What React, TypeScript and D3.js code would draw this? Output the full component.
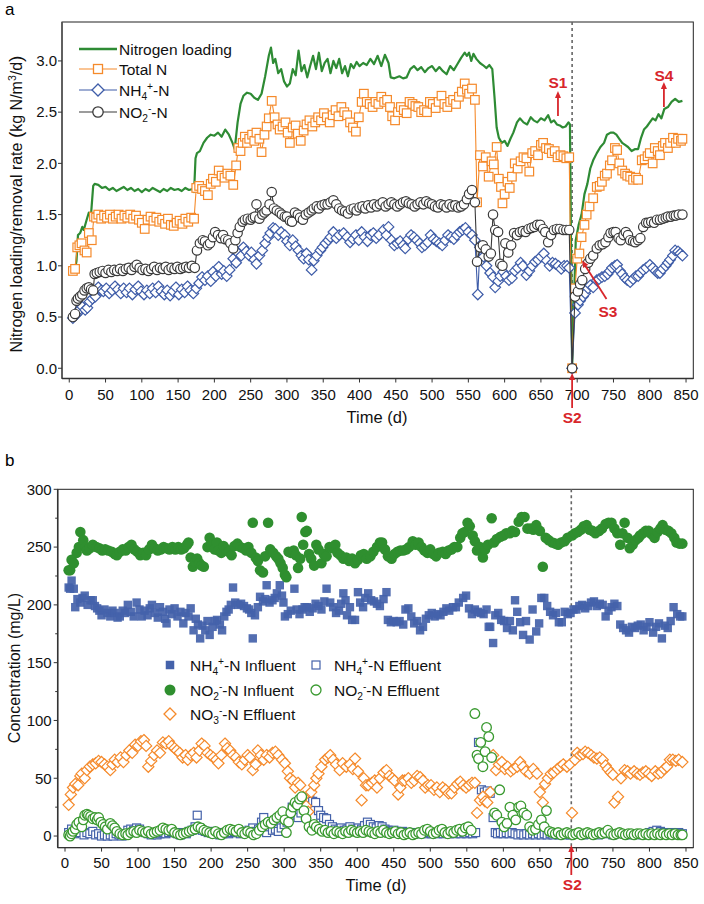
import React from 'react';
import * as d3 from 'd3';

type P = [number, number];

// ---------- axis ticks ----------
const xTicks = d3.range(0, 851, 50);
const topYTicks = [0, 0.5, 1, 1.5, 2, 2.5, 3];
const botYTicks = [0, 50, 100, 150, 200, 250, 300];
const botYMinor = [25, 75, 125, 175, 225, 275];
const switchDay = 693;

// ---------- panel a ----------
const loading: P[] = [[8,0.97],[10,1.05],[12,1.3],[15,1.32],[18,1.38],[20,1.35],[24,1.45],[27,1.52],[30,1.5],[33,1.78],[35,1.8],[40,1.79],[45,1.76],[50,1.77],[55,1.74],[60,1.76],[65,1.73],[70,1.75],[75,1.77],[80,1.74],[85,1.76],[90,1.73],[95,1.75],[100,1.72],[105,1.75],[110,1.73],[115,1.76],[120,1.74],[125,1.72],[130,1.75],[135,1.73],[140,1.76],[145,1.74],[150,1.75],[155,1.73],[160,1.76],[165,1.74],[170,1.75],[172,1.72],[174,2.05],[176,2.1],[180,2.12],[185,2.2],[190,2.25],[195,2.28],[200,2.27],[205,2.3],[210,2.26],[215,2.33],[220,2.28],[225,2.2],[228,2.14],[232,2.4],[236,2.58],[240,2.66],[245,2.69],[250,2.68],[255,2.64],[260,2.62],[265,2.68],[270,2.85],[275,3.05],[278,3.13],[281,2.98],[284,3.02],[288,2.88],[292,2.92],[296,2.8],[300,2.75],[304,2.78],[308,2.92],[312,2.86],[316,3.1],[320,2.9],[324,2.96],[328,2.84],[332,2.95],[336,3.05],[340,2.92],[344,3.08],[348,2.9],[352,2.98],[356,3.02],[360,2.88],[364,3.0],[368,2.93],[372,3.02],[376,2.88],[380,2.95],[384,2.85],[388,2.97],[392,2.93],[396,2.99],[400,2.95],[405,2.98],[410,2.96],[415,3.02],[420,2.97],[425,3.05],[430,2.95],[435,3.06],[440,2.98],[443,2.84],[448,2.83],[455,2.85],[460,2.83],[465,2.84],[470,2.92],[475,2.95],[480,2.91],[485,2.94],[490,2.89],[495,2.93],[500,2.95],[505,2.9],[510,2.94],[515,2.9],[520,2.87],[525,2.95],[530,2.91],[535,2.97],[540,3.03],[545,3.08],[548,3.05],[551,3.08],[554,3.0],[557,3.07],[561,3.02],[566,2.98],[570,2.96],[575,2.93],[579,2.96],[583,2.92],[586,2.65],[589,2.35],[592,2.25],[596,2.2],[600,2.22],[604,2.17],[608,2.24],[612,2.3],[617,2.4],[621,2.44],[626,2.4],[631,2.38],[636,2.45],[640,2.42],[645,2.4],[650,2.44],[655,2.42],[660,2.47],[664,2.4],[668,2.42],[672,2.38],[676,2.37],[680,2.35],[684,2.36],[688,2.4],[690,2.38],[693,0],[698,1.25],[702,1.4],[706,1.5],[710,1.7],[714,1.8],[718,1.95],[722,2.03],[727,2.1],[732,2.16],[737,2.2],[741,2.28],[746,2.3],[750,2.3],[754,2.28],[758,2.24],[762,2.2],[766,2.18],[770,2.16],[775,2.12],[780,2.14],[784,2.14],[788,2.25],[792,2.33],[796,2.36],[800,2.4],[804,2.44],[808,2.42],[812,2.48],[816,2.44],[820,2.53],[825,2.55],[830,2.6],[835,2.63],[840,2.6],[845,2.61]];

const totalN: P[] = [[5,0.95],[8,0.97],[11,1.18],[14,1.2],[17,1.22],[21,1.15],[24,1.13],[27,1.32],[31,1.25],[34,1.48],[37,1.47],[40,1.5],[44,1.46],[48,1.49],[52,1.47],[56,1.5],[60,1.46],[64,1.48],[68,1.5],[72,1.46],[76,1.49],[80,1.47],[84,1.5],[88,1.46],[92,1.49],[96,1.45],[100,1.42],[104,1.36],[108,1.45],[112,1.48],[116,1.44],[120,1.47],[124,1.43],[128,1.45],[132,1.41],[136,1.46],[140,1.4],[144,1.39],[148,1.42],[152,1.44],[156,1.41],[160,1.46],[164,1.43],[168,1.47],[172,1.46],[175,1.76],[179,1.78],[183,1.75],[187,1.73],[191,1.69],[195,1.8],[198,1.85],[202,1.82],[206,1.93],[210,1.88],[214,1.86],[218,1.9],[222,1.88],[226,1.79],[230,1.98],[233,2.15],[236,2.12],[239,2.2],[242,2.26],[245,2.2],[248,2.24],[252,2.28],[255,2.22],[258,2.3],[262,2.24],[265,2.11],[269,2.28],[272,2.36],[275,2.44],[279,2.61],[283,2.45],[287,2.38],[290,2.33],[294,2.36],[298,2.4],[301,2.3],[304,2.2],[308,2.35],[312,2.37],[315,2.29],[319,2.22],[323,2.32],[327,2.38],[331,2.42],[335,2.36],[339,2.4],[343,2.45],[347,2.42],[351,2.49],[355,2.45],[359,2.4],[363,2.47],[367,2.52],[371,2.46],[375,2.55],[379,2.5],[383,2.47],[387,2.4],[391,2.35],[395,2.31],[399,2.45],[403,2.6],[406,2.68],[410,2.6],[414,2.58],[418,2.55],[422,2.6],[426,2.58],[430,2.65],[434,2.6],[438,2.62],[442,2.55],[445,2.46],[449,2.42],[453,2.5],[457,2.55],[461,2.52],[465,2.49],[469,2.6],[473,2.58],[477,2.56],[481,2.55],[485,2.5],[489,2.52],[493,2.5],[497,2.6],[501,2.58],[505,2.54],[509,2.6],[513,2.66],[517,2.58],[521,2.55],[525,2.6],[529,2.62],[533,2.58],[537,2.65],[541,2.7],[545,2.78],[548,2.72],[551,2.68],[555,2.73],[559,2.62],[562,1.62],[566,2.08],[570,1.97],[574,2.06],[578,1.87],[582,2.02],[585,1.99],[589,2.16],[592,1.85],[595,1.77],[597,1.61],[600,1.7],[604,1.82],[607,1.76],[610,1.87],[614,2.0],[618,1.95],[622,2.02],[626,2.06],[630,2.05],[634,1.92],[638,2.1],[642,2.12],[646,2.08],[650,2.18],[653,2.2],[657,2.15],[661,2.14],[665,2.1],[669,2.12],[673,2.06],[677,2.08],[681,2.07],[685,2.05],[689,2.06],[693,0],[697,0.78],[700,1.07],[703,1.12],[706,1.28],[710,1.4],[713,1.5],[717,1.58],[722,1.66],[727,1.77],[731,1.78],[734,1.82],[738,1.88],[741,1.9],[745,1.98],[748,2.03],[752,2.15],[755,2.13],[758,2.0],[762,1.93],[766,1.9],[769,1.88],[773,1.87],[777,1.84],[781,1.86],[784,1.84],[789,2.03],[793,2.04],[797,2.07],[800,2.1],[804,2.0],[807,2.15],[811,2.12],[814,2.08],[818,2.17],[821,2.2],[825,2.15],[828,2.2],[832,2.25],[836,2.2],[839,2.24],[843,2.22],[845,2.24]];

const nh4Rate: P[] = [[5,0.49],[9,0.52],[12,0.54],[15,0.58],[18,0.6],[22,0.57],[25,0.59],[28,0.65],[32,0.68],[36,0.7],[40,0.79],[44,0.76],[47,0.75],[51,0.78],[55,0.73],[59,0.76],[63,0.8],[67,0.77],[71,0.73],[75,0.78],[79,0.74],[83,0.78],[87,0.72],[91,0.77],[95,0.8],[99,0.75],[103,0.72],[107,0.76],[111,0.73],[115,0.78],[119,0.74],[123,0.8],[127,0.75],[131,0.72],[135,0.76],[139,0.71],[143,0.75],[147,0.79],[151,0.72],[155,0.77],[159,0.74],[163,0.8],[167,0.76],[171,0.73],[175,0.78],[179,0.83],[183,0.89],[187,0.86],[191,0.9],[195,0.85],[198,0.94],[202,0.9],[206,0.99],[210,0.92],[213,0.95],[217,0.9],[221,0.96],[226,1.07],[230,1.03],[233,1.12],[237,1.1],[240,1.18],[244,1.14],[248,1.1],[251,1.13],[255,1.06],[258,1.02],[262,1.1],[266,1.15],[270,1.22],[274,1.28],[277,1.32],[281,1.37],[284,1.36],[288,1.3],[292,1.33],[297,1.3],[300,1.24],[304,1.2],[308,1.25],[312,1.19],[316,1.15],[320,1.1],[323,1.07],[327,1.12],[330,1.06],[334,0.96],[337,1.05],[341,1.1],[346,1.15],[349,1.18],[353,1.22],[357,1.25],[360,1.28],[364,1.33],[368,1.27],[372,1.3],[378,1.32],[383,1.28],[387,1.23],[391,1.26],[395,1.3],[399,1.25],[403,1.33],[407,1.28],[411,1.24],[415,1.3],[419,1.32],[423,1.27],[427,1.3],[433,1.35],[437,1.3],[440,1.38],[444,1.25],[448,1.2],[452,1.22],[456,1.24],[460,1.2],[463,1.17],[467,1.26],[471,1.3],[475,1.28],[479,1.25],[483,1.22],[486,1.18],[490,1.2],[494,1.23],[498,1.3],[502,1.26],[506,1.24],[510,1.22],[514,1.2],[518,1.25],[522,1.3],[526,1.28],[530,1.26],[534,1.3],[538,1.33],[542,1.35],[546,1.37],[550,1.33],[555,1.3],[559,1.25],[563,0.72],[566,1.18],[571,1.09],[575,1.0],[580,0.93],[584,0.89],[587,0.79],[591,0.85],[594,0.9],[598,0.94],[602,0.9],[606,0.86],[610,0.88],[614,0.95],[618,0.98],[622,1.03],[625,1.0],[630,0.91],[634,0.95],[638,1.0],[642,1.04],[646,1.06],[650,1.09],[654,1.12],[658,1.05],[662,1.0],[666,1.03],[670,1.02],[674,1.0],[678,0.97],[682,1.0],[686,1.0],[689,0.98],[693,0],[697,0.54],[701,0.62],[704,0.66],[708,0.7],[711,0.73],[715,0.78],[718,0.81],[722,0.79],[727,0.86],[730,0.87],[734,0.89],[738,0.9],[742,0.92],[745,0.95],[748,0.98],[752,1.0],[755,1.01],[759,0.95],[762,0.92],[766,0.88],[769,0.86],[773,0.84],[777,0.87],[781,0.9],[784,0.9],[787,0.93],[791,0.96],[795,0.98],[800,1.01],[804,0.98],[808,0.95],[811,0.93],[814,0.93],[818,0.97],[822,1.0],[825,1.03],[828,1.06],[832,1.1],[835,1.15],[839,1.14],[842,1.12],[845,1.1]];

const no2Rate: P[] = [[5,0.5],[8,0.53],[10,0.66],[12,0.68],[15,0.7],[18,0.72],[21,0.76],[24,0.78],[27,0.79],[30,0.77],[33,0.76],[35,0.92],[38,0.93],[42,0.94],[46,0.95],[50,0.93],[54,0.96],[58,0.94],[62,0.96],[66,0.95],[70,0.97],[74,0.95],[78,0.97],[82,0.98],[86,0.96],[90,0.99],[93,1.01],[97,0.98],[101,0.96],[105,0.97],[109,0.95],[113,0.97],[117,0.99],[121,0.96],[125,0.98],[129,0.97],[133,0.99],[137,0.96],[141,0.98],[145,0.97],[149,0.99],[153,0.97],[157,0.98],[161,0.99],[165,0.98],[169,1.0],[173,0.98],[176,1.15],[180,1.22],[184,1.25],[187,1.24],[191,1.2],[194,1.22],[198,1.28],[201,1.33],[205,1.3],[209,1.27],[212,1.3],[215,1.26],[219,1.25],[222,1.22],[226,1.17],[229,1.25],[232,1.32],[235,1.38],[239,1.43],[242,1.45],[246,1.46],[250,1.45],[253,1.47],[256,1.48],[258,1.6],[262,1.46],[266,1.5],[269,1.52],[272,1.54],[276,1.6],[279,1.72],[282,1.56],[286,1.54],[290,1.52],[293,1.5],[297,1.48],[300,1.48],[304,1.44],[307,1.43],[311,1.52],[315,1.5],[318,1.47],[322,1.45],[326,1.5],[330,1.52],[334,1.54],[337,1.56],[341,1.58],[344,1.56],[348,1.59],[352,1.6],[356,1.6],[360,1.62],[364,1.64],[368,1.6],[372,1.56],[376,1.54],[380,1.53],[384,1.51],[388,1.55],[392,1.56],[396,1.54],[400,1.57],[404,1.58],[408,1.56],[412,1.59],[416,1.57],[420,1.6],[424,1.58],[428,1.6],[432,1.62],[436,1.58],[440,1.6],[444,1.62],[448,1.6],[452,1.58],[456,1.6],[460,1.62],[464,1.63],[468,1.61],[472,1.6],[476,1.58],[480,1.6],[484,1.62],[488,1.6],[492,1.63],[496,1.61],[500,1.6],[504,1.58],[508,1.57],[512,1.6],[516,1.59],[520,1.57],[524,1.6],[528,1.58],[532,1.59],[536,1.57],[540,1.58],[544,1.6],[548,1.65],[551,1.7],[555,1.74],[559,1.62],[562,1.04],[566,1.18],[570,1.2],[574,1.16],[578,1.09],[581,1.12],[584,1.5],[587,1.35],[591,1.33],[594,1.02],[597,1.0],[601,1.22],[605,1.13],[609,1.2],[613,1.32],[617,1.3],[621,1.33],[625,1.34],[629,1.33],[633,1.36],[637,1.37],[641,1.38],[645,1.4],[649,1.4],[653,1.36],[656,1.33],[660,1.23],[664,1.3],[668,1.35],[672,1.36],[676,1.36],[681,1.35],[685,1.35],[689,1.35],[693,0],[697,0.7],[701,0.75],[704,0.82],[707,0.86],[711,0.97],[715,1.03],[718,1.07],[722,1.1],[727,1.17],[731,1.2],[735,1.21],[739,1.23],[743,1.28],[746,1.32],[750,1.33],[753,1.33],[757,1.27],[760,1.25],[764,1.3],[767,1.33],[770,1.3],[773,1.25],[777,1.24],[780,1.23],[784,1.25],[787,1.27],[791,1.38],[795,1.42],[798,1.42],[802,1.43],[806,1.42],[810,1.45],[814,1.45],[818,1.46],[822,1.47],[825,1.48],[829,1.48],[833,1.49],[836,1.49],[840,1.5],[845,1.5]];

// ---------- panel b ----------
const nh4Inf: P[] = [[5,215],[7,214],[9,221],[12,214],[14,198],[17,205],[21,202],[24,206],[27,208],[31,200],[35,204],[38,204],[41,199],[44,197],[47,195],[50,191],[54,196],[58,193],[62,190],[65,195],[68,193],[72,189],[75,190],[79,195],[82,193],[86,200],[90,194],[94,190],[98,202],[102,196],[105,190],[109,195],[113,191],[116,197],[119,200],[123,193],[127,189],[130,198],[134,194],[137,188],[139,184],[143,196],[146,192],[150,197],[154,190],[158,194],[162,184],[165,193],[169,190],[172,197],[176,178],[179,188],[182,183],[185,171],[188,182],[192,178],[195,186],[198,174],[202,181],[205,186],[208,187],[212,183],[215,178],[218,190],[221,194],[224,196],[227,200],[230,215],[233,202],[237,200],[241,201],[245,199],[249,197],[252,196],[255,193],[257,171],[260,191],[264,198],[267,207],[271,203],[274,205],[276,217],[280,202],[284,204],[287,206],[290,210],[294,217],[297,208],[299,202],[301,190],[305,192],[309,195],[314,214],[317,196],[321,192],[325,196],[328,198],[331,198],[335,194],[339,197],[343,201],[347,199],[351,196],[355,203],[358,214],[363,202],[367,198],[371,193],[375,195],[378,201],[381,210],[384,204],[386,191],[390,198],[393,187],[397,187],[401,211],[404,202],[408,198],[411,206],[415,210],[419,204],[423,203],[427,201],[431,199],[436,205],[440,211],[442,187],[446,185],[450,186],[454,185],[458,186],[463,183],[466,196],[470,197],[474,190],[478,184],[482,186],[486,178],[490,181],[494,188],[498,191],[502,193],[506,190],[510,192],[514,191],[518,194],[522,197],[526,195],[531,198],[535,198],[539,202],[545,206],[549,208],[553,197],[557,192],[561,196],[565,194],[569,193],[573,192],[577,196],[580,181],[582,181],[586,167],[589,191],[593,193],[597,187],[601,186],[605,180],[609,186],[613,178],[616,204],[619,194],[623,185],[627,174],[631,186],[636,170],[640,196],[645,177],[649,184],[652,206],[656,206],[660,199],[664,194],[668,191],[672,193],[676,185],[680,185],[684,194],[688,192],[692,193],[696,196],[700,196],[704,199],[708,200],[712,197],[716,199],[720,202],[724,203],[728,199],[732,201],[736,200],[740,190],[744,195],[748,198],[752,201],[756,199],[760,183],[764,180],[768,178],[772,176],[776,181],[780,180],[784,182],[788,183],[792,178],[796,181],[800,185],[805,176],[809,181],[813,184],[817,171],[821,182],[825,180],[829,186],[833,198],[838,192],[842,190],[845,190]];

const nh4Eff: P[] = [[5,3],[9,6],[13,2],[17,4],[21,3],[26,1],[30,3],[34,2],[38,4],[42,1],[46,2],[50,0],[54,1],[58,0],[62,1],[66,0],[70,2],[74,1],[78,0],[82,2],[86,5],[90,6],[94,5],[98,7],[102,6],[106,4],[110,3],[114,2],[118,1],[122,2],[126,1],[130,2],[134,3],[138,2],[142,3],[146,4],[150,3],[154,2],[158,1],[162,3],[166,2],[170,4],[174,5],[178,8],[181,18],[184,7],[188,5],[192,4],[196,3],[200,4],[204,2],[208,3],[212,1],[216,2],[220,3],[224,2],[228,3],[232,4],[236,3],[240,2],[244,3],[248,4],[252,5],[257,7],[261,4],[265,6],[269,12],[272,16],[276,3],[280,8],[284,5],[288,6],[292,4],[296,7],[300,10],[304,12],[308,18],[311,25],[315,22],[319,16],[323,20],[327,24],[331,28],[335,33],[339,30],[343,29],[347,22],[350,18],[354,16],[358,15],[362,10],[366,8],[370,6],[374,5],[378,7],[382,5],[386,6],[390,8],[394,6],[398,5],[402,7],[406,6],[410,9],[414,12],[418,10],[422,8],[426,7],[430,9],[434,8],[438,6],[442,5],[446,4],[450,5],[454,4],[458,3],[462,4],[466,3],[470,2],[474,3],[478,2],[482,3],[486,2],[490,3],[494,2],[498,3],[502,2],[506,3],[510,2],[514,3],[518,2],[522,3],[526,2],[530,3],[534,2],[538,3],[542,2],[546,3],[550,2],[554,3],[558,2],[562,3],[566,81],[570,40],[574,38],[578,39],[582,37],[586,16],[589,3],[592,2],[596,3],[600,2],[604,3],[608,2],[612,3],[616,2],[620,1],[624,2],[628,1],[632,2],[636,1],[640,2],[644,1],[648,2],[652,1],[656,2],[660,1],[664,2],[668,1],[672,2],[676,1],[680,2],[684,1],[688,2],[692,1],[700,2],[710,1],[720,2],[730,1],[740,2],[750,1],[760,2],[770,1],[780,2],[790,1],[800,3],[805,4],[810,5],[815,4],[820,3],[825,2],[830,3],[835,2],[840,3],[845,2]];

const no2Inf: P[] = [[5,230],[7,230],[9,239],[12,236],[16,245],[19,250],[21,263],[25,256],[28,250],[30,247],[34,249],[38,252],[43,250],[47,249],[51,247],[55,248],[59,247],[64,246],[68,244],[71,243],[75,246],[79,248],[83,247],[87,250],[91,252],[95,248],[99,246],[103,243],[107,245],[111,243],[115,248],[119,252],[123,249],[127,247],[131,248],[135,250],[139,249],[143,248],[147,250],[151,248],[155,250],[159,248],[163,249],[167,252],[169,254],[172,241],[175,233],[178,237],[181,240],[184,236],[187,234],[190,233],[195,250],[198,258],[201,252],[205,248],[208,254],[210,247],[214,245],[217,251],[221,248],[224,246],[228,243],[232,251],[236,253],[240,250],[244,249],[248,247],[251,250],[255,245],[257,271],[261,241],[264,238],[267,230],[271,228],[274,242],[278,271],[281,248],[285,245],[289,242],[292,240],[295,236],[298,232],[301,226],[303,224],[306,246],[309,245],[313,247],[316,243],[319,232],[322,240],[324,276],[326,252],[329,263],[331,264],[334,244],[337,240],[341,234],[344,252],[347,248],[351,236],[354,244],[358,242],[362,250],[366,249],[370,252],[373,245],[377,243],[381,240],[385,241],[389,238],[393,240],[397,236],[401,239],[405,243],[409,244],[413,240],[418,242],[422,246],[427,250],[431,254],[434,254],[438,248],[442,242],[447,240],[451,244],[455,246],[459,247],[463,247],[467,248],[471,250],[476,255],[480,252],[484,254],[488,250],[492,247],[496,245],[500,248],[504,244],[508,242],[512,245],[517,246],[521,244],[525,247],[529,248],[533,250],[537,250],[541,258],[544,262],[547,263],[551,271],[554,268],[558,260],[561,255],[564,247],[568,250],[572,241],[575,248],[579,252],[584,275],[587,254],[591,257],[596,259],[600,260],[604,262],[609,262],[612,264],[616,263],[621,272],[625,276],[629,276],[633,266],[637,266],[641,265],[645,269],[650,264],[654,233],[658,258],[662,256],[667,254],[671,253],[675,252],[679,254],[684,255],[688,258],[694,260],[698,262],[702,263],[706,265],[710,268],[714,269],[718,265],[722,264],[726,262],[731,264],[735,266],[740,270],[744,271],[748,271],[752,266],[756,262],[760,252],[763,262],[766,271],[770,258],[773,249],[777,252],[781,256],[785,258],[787,260],[791,262],[795,264],[799,264],[803,261],[807,258],[811,263],[815,266],[818,269],[822,265],[826,264],[830,262],[834,258],[837,254],[841,253],[845,253]];

const no2Eff: P[] = [[5,1],[7,0],[9,2],[11,4],[14,6],[16,10],[19,12],[23,8],[25,14],[27,18],[30,19],[32,18],[35,17],[38,15],[41,16],[44,14],[46,16],[49,12],[52,10],[55,8],[58,6],[62,11],[65,9],[68,7],[71,4],[75,2],[79,1],[83,2],[86,1],[90,3],[94,4],[98,3],[102,5],[106,4],[110,3],[114,4],[118,2],[122,3],[126,4],[130,5],[134,7],[138,6],[142,5],[146,6],[150,3],[154,2],[158,1],[162,2],[166,3],[170,4],[174,5],[178,6],[182,8],[186,7],[190,5],[194,4],[198,3],[202,2],[206,4],[210,2],[214,1],[218,3],[222,5],[226,6],[230,5],[234,4],[238,6],[242,3],[246,2],[250,4],[254,3],[258,1],[262,2],[266,5],[270,8],[274,10],[278,12],[282,11],[286,14],[290,16],[294,18],[298,21],[301,14],[303,3],[306,12],[309,20],[312,25],[315,29],[318,27],[321,32],[324,34],[327,22],[330,15],[334,8],[338,5],[341,10],[344,8],[348,6],[352,4],[356,5],[360,3],[364,4],[368,2],[372,4],[376,3],[380,2],[384,4],[388,3],[392,5],[396,4],[400,3],[404,4],[408,3],[412,5],[416,4],[420,3],[424,2],[428,4],[432,3],[436,5],[440,3],[444,2],[448,3],[452,4],[456,2],[460,3],[464,1],[468,2],[472,3],[476,1],[480,2],[484,3],[488,2],[492,5],[496,6],[500,4],[504,2],[508,3],[512,5],[516,6],[520,3],[524,2],[528,4],[532,3],[536,5],[540,6],[544,4],[548,7],[552,8],[556,5],[561,106],[564,70],[566,67],[569,81],[572,60],[575,73],[577,94],[580,86],[584,68],[588,20],[591,18],[595,40],[598,12],[601,8],[605,11],[609,25],[613,18],[617,14],[621,25],[624,26],[628,20],[632,18],[636,8],[640,5],[644,6],[648,10],[652,14],[656,8],[659,22],[663,4],[667,3],[671,2],[675,3],[679,1],[683,2],[687,3],[691,2],[695,1],[699,2],[703,3],[707,1],[711,2],[715,3],[719,2],[723,1],[727,2],[731,3],[735,2],[739,3],[743,5],[747,2],[751,1],[755,2],[759,3],[763,2],[767,1],[771,2],[775,2],[779,1],[783,2],[787,2],[791,1],[795,2],[799,1],[803,2],[807,1],[811,2],[815,1],[819,2],[823,1],[827,2],[831,1],[835,2],[839,1],[843,1],[845,1]];

const no3Eff: P[] = [[5,27],[8,36],[11,42],[14,45],[18,44],[21,52],[23,54],[27,50],[30,57],[34,60],[38,62],[42,63],[46,65],[50,64],[54,62],[58,60],[62,57],[65,62],[68,66],[72,64],[76,68],[80,64],[84,70],[88,74],[92,72],[96,79],[100,78],[104,82],[108,83],[111,78],[114,60],[118,65],[122,70],[126,74],[130,72],[134,81],[138,80],[142,82],[146,78],[150,76],[153,74],[157,72],[161,68],[165,70],[168,66],[172,70],[176,72],[180,68],[184,74],[187,80],[191,78],[195,72],[199,70],[203,68],[207,66],[210,63],[214,70],[219,80],[222,76],[226,74],[230,70],[234,68],[238,64],[242,62],[246,66],[250,70],[253,68],[257,57],[261,62],[264,74],[268,70],[272,66],[276,70],[280,68],[284,72],[288,73],[292,70],[297,66],[301,63],[305,56],[308,50],[312,48],[315,42],[319,46],[322,44],[326,34],[330,26],[333,21],[337,38],[341,44],[344,50],[347,54],[351,60],[356,66],[360,68],[363,70],[367,66],[371,62],[376,57],[380,63],[385,60],[390,62],[394,58],[397,67],[401,56],[406,31],[409,50],[412,44],[415,44],[420,46],[424,48],[427,42],[431,50],[436,55],[440,57],[444,52],[448,50],[451,48],[456,36],[459,42],[462,48],[465,48],[470,50],[474,46],[478,48],[482,52],[486,51],[490,48],[493,42],[497,44],[501,44],[505,40],[509,42],[513,38],[517,42],[521,40],[525,37],[529,37],[533,42],[537,45],[541,47],[545,44],[549,42],[553,44],[557,46],[561,46],[564,20],[568,31],[572,34],[575,30],[578,29],[582,38],[586,70],[590,57],[594,62],[598,64],[602,58],[606,60],[610,56],[614,58],[619,60],[623,64],[627,60],[631,56],[636,54],[641,58],[646,54],[650,38],[654,29],[657,45],[661,50],[665,54],[669,55],[674,58],[678,60],[682,62],[687,60],[691,62],[694,20],[698,66],[701,72],[705,70],[709,71],[712,73],[716,72],[720,70],[724,68],[728,67],[732,68],[736,66],[740,61],[743,58],[747,55],[750,53],[752,29],[757,34],[761,50],[766,57],[770,56],[774,54],[779,56],[783,54],[787,53],[791,55],[795,56],[799,54],[803,52],[808,56],[812,54],[816,55],[820,58],[824,60],[828,66],[832,66],[836,65],[840,66],[845,64]];

// ---------- styling ----------
const FONT = "'Liberation Sans', Arial, Helvetica, sans-serif";
const C_GREEN = '#2e8b34';
const C_ORANGE = '#f58a2b';
const C_BLUE = '#3e5ca8';
const C_DARK = '#3a3a3a';
const C_BFILL = '#4462aa';
const C_GFILL = '#2f8f2f';
const C_GOPEN = '#3a9a30';
const C_RED = '#d8262b';

type Seg = [string, 'n' | 'sub' | 'sup'];
function chem(segs: Seg[], fs: number) {
  let cur = 0;
  return segs.map(([t, k], i) => {
    const target = k === 'sub' ? fs * 0.3 : k === 'sup' ? -fs * 0.38 : 0;
    const dy = target - cur;
    cur = target;
    return (
      <tspan key={i} dy={dy} fontSize={k === 'n' ? fs : fs * 0.66}>
        {t}
      </tspan>
    );
  });
}

const NH4: Seg[] = [['NH', 'n'], ['4', 'sub'], ['+', 'sup'], ['-N', 'n']];
const NO2: Seg[] = [['NO', 'n'], ['2', 'sub'], ['-', 'sup'], ['-N', 'n']];
const NO3: Seg[] = [['NO', 'n'], ['3', 'sub'], ['-', 'sup'], ['-N', 'n']];

function Square({ x, y, s, ...rest }: any) {
  return <rect x={x - s / 2} y={y - s / 2} width={s} height={s} {...rest} />;
}
function Diamond({ x, y, r, ...rest }: any) {
  return <path d={`M${x},${y - r}L${x + r},${y}L${x},${y + r}L${x - r},${y}Z`} {...rest} />;
}
function Arrow({ x1, y1, x2, y2 }: any) {
  const a = Math.atan2(y2 - y1, x2 - x1);
  const L = 7, W = 3;
  const bx = x2 - L * Math.cos(a), by = y2 - L * Math.sin(a);
  const px = -Math.sin(a) * W, py = Math.cos(a) * W;
  return (
    <g>
      <line x1={x1} y1={y1} x2={bx} y2={by} stroke={C_RED} strokeWidth={1.8} />
      <path d={`M${x2},${y2}L${bx + px},${by + py}L${bx - px},${by - py}Z`} fill={C_RED} />
    </g>
  );
}

export default function App() {
  const xA = d3.scaleLinear().domain([-10, 860]).range([62, 693.3]);
  const yA = d3.scaleLinear().domain([-0.1, 3.38]).range([378.5, 22]);
  const xB = d3.scaleLinear().domain([-10, 860]).range([57.7, 693.3]);
  const yB = d3.scaleLinear().domain([-10, 300]).range([847.6, 489.3]);

  const lineA = d3.line<P>().x((d) => xA(d[0])).y((d) => yA(d[1]));

  const [ax0, ax1] = xA.range();
  const [ay0, ay1] = yA.range();
  const [bx0, bx1] = xB.range();
  const [by0, by1] = yB.range();

  const tickFs = 15;

  return (
    <svg
      width={704}
      height={904}
      style={{ position: 'absolute', left: 0, top: 0, background: '#fff' }}
      fontFamily={FONT}
    >
      <rect x={0} y={0} width={704} height={904} fill="#fff" />

      {/* ================= Panel a ================= */}
      <text x={5} y={15} fontSize={17}>a</text>

      {/* frame */}
      <rect x={ax0} y={ay1} width={ax1 - ax0} height={ay0 - ay1} fill="none" stroke="#222" strokeWidth={1} />
      <line x1={ax0} y1={ay1} x2={ax0} y2={ay0} stroke="#555" strokeWidth={1.6} />
      <line x1={ax0} y1={ay0} x2={ax1} y2={ay0} stroke="#333" strokeWidth={1.3} />

      {/* dashed line */}
      <line x1={xA(switchDay)} x2={xA(switchDay)} y1={ay1} y2={ay0} stroke="#666" strokeWidth={1.6} strokeDasharray="3,3" />

      {/* ticks */}
      {xTicks.map((t) => (
        <g key={'ax' + t}>
          <line x1={xA(t)} x2={xA(t)} y1={ay0} y2={ay0 + 4} stroke="#333" strokeWidth={1} />
          <text x={xA(t)} y={ay0 + 21} fontSize={tickFs} textAnchor="middle" fill="#111">{t}</text>
        </g>
      ))}
      {topYTicks.map((t) => (
        <g key={'ay' + t}>
          <line x1={ax0 - 4} x2={ax0} y1={yA(t)} y2={yA(t)} stroke="#333" strokeWidth={1} />
          <text x={ax0 - 5} y={yA(t) + 5.3} fontSize={tickFs} textAnchor="end" fill="#111">{t.toFixed(1)}</text>
        </g>
      ))}

      {/* axis titles */}
      <text x={377} y={423} fontSize={16.5} textAnchor="middle" fill="#111">Time (d)</text>
      <text transform={`translate(22,204) rotate(-90)`} fontSize={16} textAnchor="middle" fill="#111">
        <tspan>Nitrogen loading/removal rate </tspan>
        <tspan fontSize={19}>(</tspan>
        <tspan>kg N/m</tspan>
        <tspan dy={-6} fontSize={10.5}>3</tspan>
        <tspan dy={6}>/d</tspan>
        <tspan fontSize={19}>)</tspan>
      </text>

      {/* series */}
      <path d={lineA(loading) || ''} fill="none" stroke={C_GREEN} strokeWidth={2.2} strokeLinejoin="round" />

      <path d={lineA(totalN) || ''} fill="none" stroke={C_ORANGE} strokeWidth={1.1} />
      {totalN.map((d, i) => (
        <Square key={'tn' + i} x={xA(d[0])} y={yA(d[1])} s={8.6} fill="#fff" stroke={C_ORANGE} strokeWidth={1.2} />
      ))}

      <path d={lineA(nh4Rate) || ''} fill="none" stroke={C_BLUE} strokeWidth={1.1} />
      {nh4Rate.map((d, i) => (
        <Diamond key={'nh' + i} x={xA(d[0])} y={yA(d[1])} r={5.3} fill="#fff" stroke={C_BLUE} strokeWidth={1.2} />
      ))}

      <path d={lineA(no2Rate) || ''} fill="none" stroke={C_DARK} strokeWidth={1.1} />
      {no2Rate.map((d, i) => (
        <circle key={'no' + i} cx={xA(d[0])} cy={yA(d[1])} r={4.7} fill="#fff" stroke={C_DARK} strokeWidth={1.2} />
      ))}

      {/* legend a */}
      <g>
        <line x1={79} x2={117} y1={49} y2={49} stroke={C_GREEN} strokeWidth={2.4} />
        <text x={119} y={54.5} fontSize={15.5} fill="#111">Nitrogen loading</text>

        <line x1={79} x2={117} y1={69} y2={69} stroke={C_ORANGE} strokeWidth={1.1} />
        <Square x={98} y={69} s={9} fill="#fff" stroke={C_ORANGE} strokeWidth={1.3} />
        <text x={119} y={74.5} fontSize={15.5} fill="#111">Total N</text>

        <line x1={79} x2={117} y1={90} y2={90} stroke={C_BLUE} strokeWidth={1.1} />
        <Diamond x={98} y={90} r={6} fill="#fff" stroke={C_BLUE} strokeWidth={1.3} />
        <text x={119} y={95.5} fontSize={15.5} fill="#111">{chem(NH4, 15.5)}</text>

        <line x1={79} x2={117} y1={112} y2={112} stroke={C_DARK} strokeWidth={1.1} />
        <circle cx={98} cy={112} r={5.2} fill="#fff" stroke={C_DARK} strokeWidth={1.3} />
        <text x={119} y={117.5} fontSize={15.5} fill="#111">{chem(NO2, 15.5)}</text>
      </g>

      {/* annotations a */}
      <text x={xA(673.5)} y={88} fontSize={15.5} fontWeight="bold" fill={C_RED} textAnchor="middle">S1</text>
      <Arrow x1={xA(673.5)} y1={116} x2={xA(673.5)} y2={91} />
      <text x={xA(819.5)} y={81} fontSize={15.5} fontWeight="bold" fill={C_RED} textAnchor="middle">S4</text>
      <Arrow x1={xA(819.5)} y1={107} x2={xA(819.5)} y2={82} />
      <text x={608} y={317} fontSize={15.5} fontWeight="bold" fill={C_RED} textAnchor="middle">S3</text>
      <Arrow x1={606.5} y1={299} x2={582} y2={260.5} />
      <text x={xA(switchDay)} y={423} fontSize={15.5} fontWeight="bold" fill={C_RED} textAnchor="middle">S2</text>
      <Arrow x1={xA(switchDay)} y1={408} x2={xA(switchDay)} y2={373} />

      {/* ================= Panel b ================= */}
      <text x={5} y={466} fontSize={17}>b</text>

      <rect x={bx0} y={by1} width={bx1 - bx0} height={by0 - by1} fill="none" stroke="#222" strokeWidth={1} />
      <line x1={bx0} y1={by1} x2={bx0} y2={by0} stroke="#333" strokeWidth={1.5} />
      <line x1={bx0} y1={by0} x2={bx1} y2={by0} stroke="#333" strokeWidth={1.4} />

      <line x1={xB(switchDay)} x2={xB(switchDay)} y1={by1} y2={by0} stroke="#666" strokeWidth={1.6} strokeDasharray="3,3" />

      {xTicks.map((t) => (
        <g key={'bx' + t}>
          <line x1={xB(t)} x2={xB(t)} y1={by0} y2={by0 + 4} stroke="#333" strokeWidth={1} />
          <text x={xB(t)} y={by0 + 20} fontSize={tickFs} textAnchor="middle" fill="#111">{t}</text>
        </g>
      ))}
      {botYTicks.map((t) => (
        <g key={'by' + t}>
          <line x1={bx0 - 4} x2={bx0} y1={yB(t)} y2={yB(t)} stroke="#333" strokeWidth={1} />
          <text x={bx0 - 6} y={yB(t) + 5.3} fontSize={tickFs} textAnchor="end" fill="#111">{t}</text>
        </g>
      ))}
      {botYMinor.map((t) => (
        <line key={'bym' + t} x1={bx0 - 2.5} x2={bx0} y1={yB(t)} y2={yB(t)} stroke="#333" strokeWidth={1} />
      ))}

      <text x={376} y={891} fontSize={16.5} textAnchor="middle" fill="#111">Time (d)</text>
      <text transform={`translate(20,668) rotate(-90)`} fontSize={16} textAnchor="middle" fill="#111">
        Concentration (mg/L)
      </text>

      {/* series b */}
      {nh4Inf.map((d, i) => (
        <Square key={'ni' + i} x={xB(d[0])} y={yB(d[1])} s={8.4} fill={C_BFILL} fillOpacity={0.92} />
      ))}
      {no2Inf.map((d, i) => (
        <circle key={'gi' + i} cx={xB(d[0])} cy={yB(d[1])} r={5.3} fill={C_GFILL} />
      ))}
      {nh4Eff.map((d, i) => (
        <Square key={'ne' + i} x={xB(d[0])} y={yB(d[1])} s={8} fill="#fff" stroke={C_BFILL} strokeWidth={1.2} />
      ))}
      {no3Eff.map((d, i) => (
        <Diamond key={'oe' + i} x={xB(d[0])} y={yB(d[1])} r={5.6} fill="#fff" stroke={C_ORANGE} strokeWidth={1.2} />
      ))}
      {no2Eff.map((d, i) => (
        <circle key={'ge' + i} cx={xB(d[0])} cy={yB(d[1])} r={4.8} fill="#fff" stroke={C_GOPEN} strokeWidth={1.3} />
      ))}

      {/* legend b */}
      <g>
        <Square x={170} y={665} s={8.5} fill={C_BFILL} />
        <text x={190} y={670.5} fontSize={15.5} fill="#111">{chem(NH4, 15.5)}<tspan> Influent</tspan></text>
        <Square x={316} y={665} s={8} fill="#fff" stroke={C_BFILL} strokeWidth={1.2} />
        <text x={334} y={670.5} fontSize={15.5} fill="#111">{chem(NH4, 15.5)}<tspan> Effluent</tspan></text>

        <circle cx={170} cy={690} r={5.5} fill={C_GFILL} />
        <text x={190} y={695.5} fontSize={15.5} fill="#111">{chem(NO2, 15.5)}<tspan> Influent</tspan></text>
        <circle cx={316} cy={690} r={5} fill="#fff" stroke={C_GOPEN} strokeWidth={1.3} />
        <text x={334} y={695.5} fontSize={15.5} fill="#111">{chem(NO2, 15.5)}<tspan> Effluent</tspan></text>

        <Diamond x={170} y={714} r={6} fill="#fff" stroke={C_ORANGE} strokeWidth={1.3} />
        <text x={190} y={719.5} fontSize={15.5} fill="#111">{chem(NO3, 15.5)}<tspan> Effluent</tspan></text>
      </g>

      <text x={xB(switchDay) + 1} y={890} fontSize={15.5} fontWeight="bold" fill={C_RED} textAnchor="middle">S2</text>
      <Arrow x1={xB(switchDay)} y1={875} x2={xB(switchDay)} y2={845} />
    </svg>
  );
}
